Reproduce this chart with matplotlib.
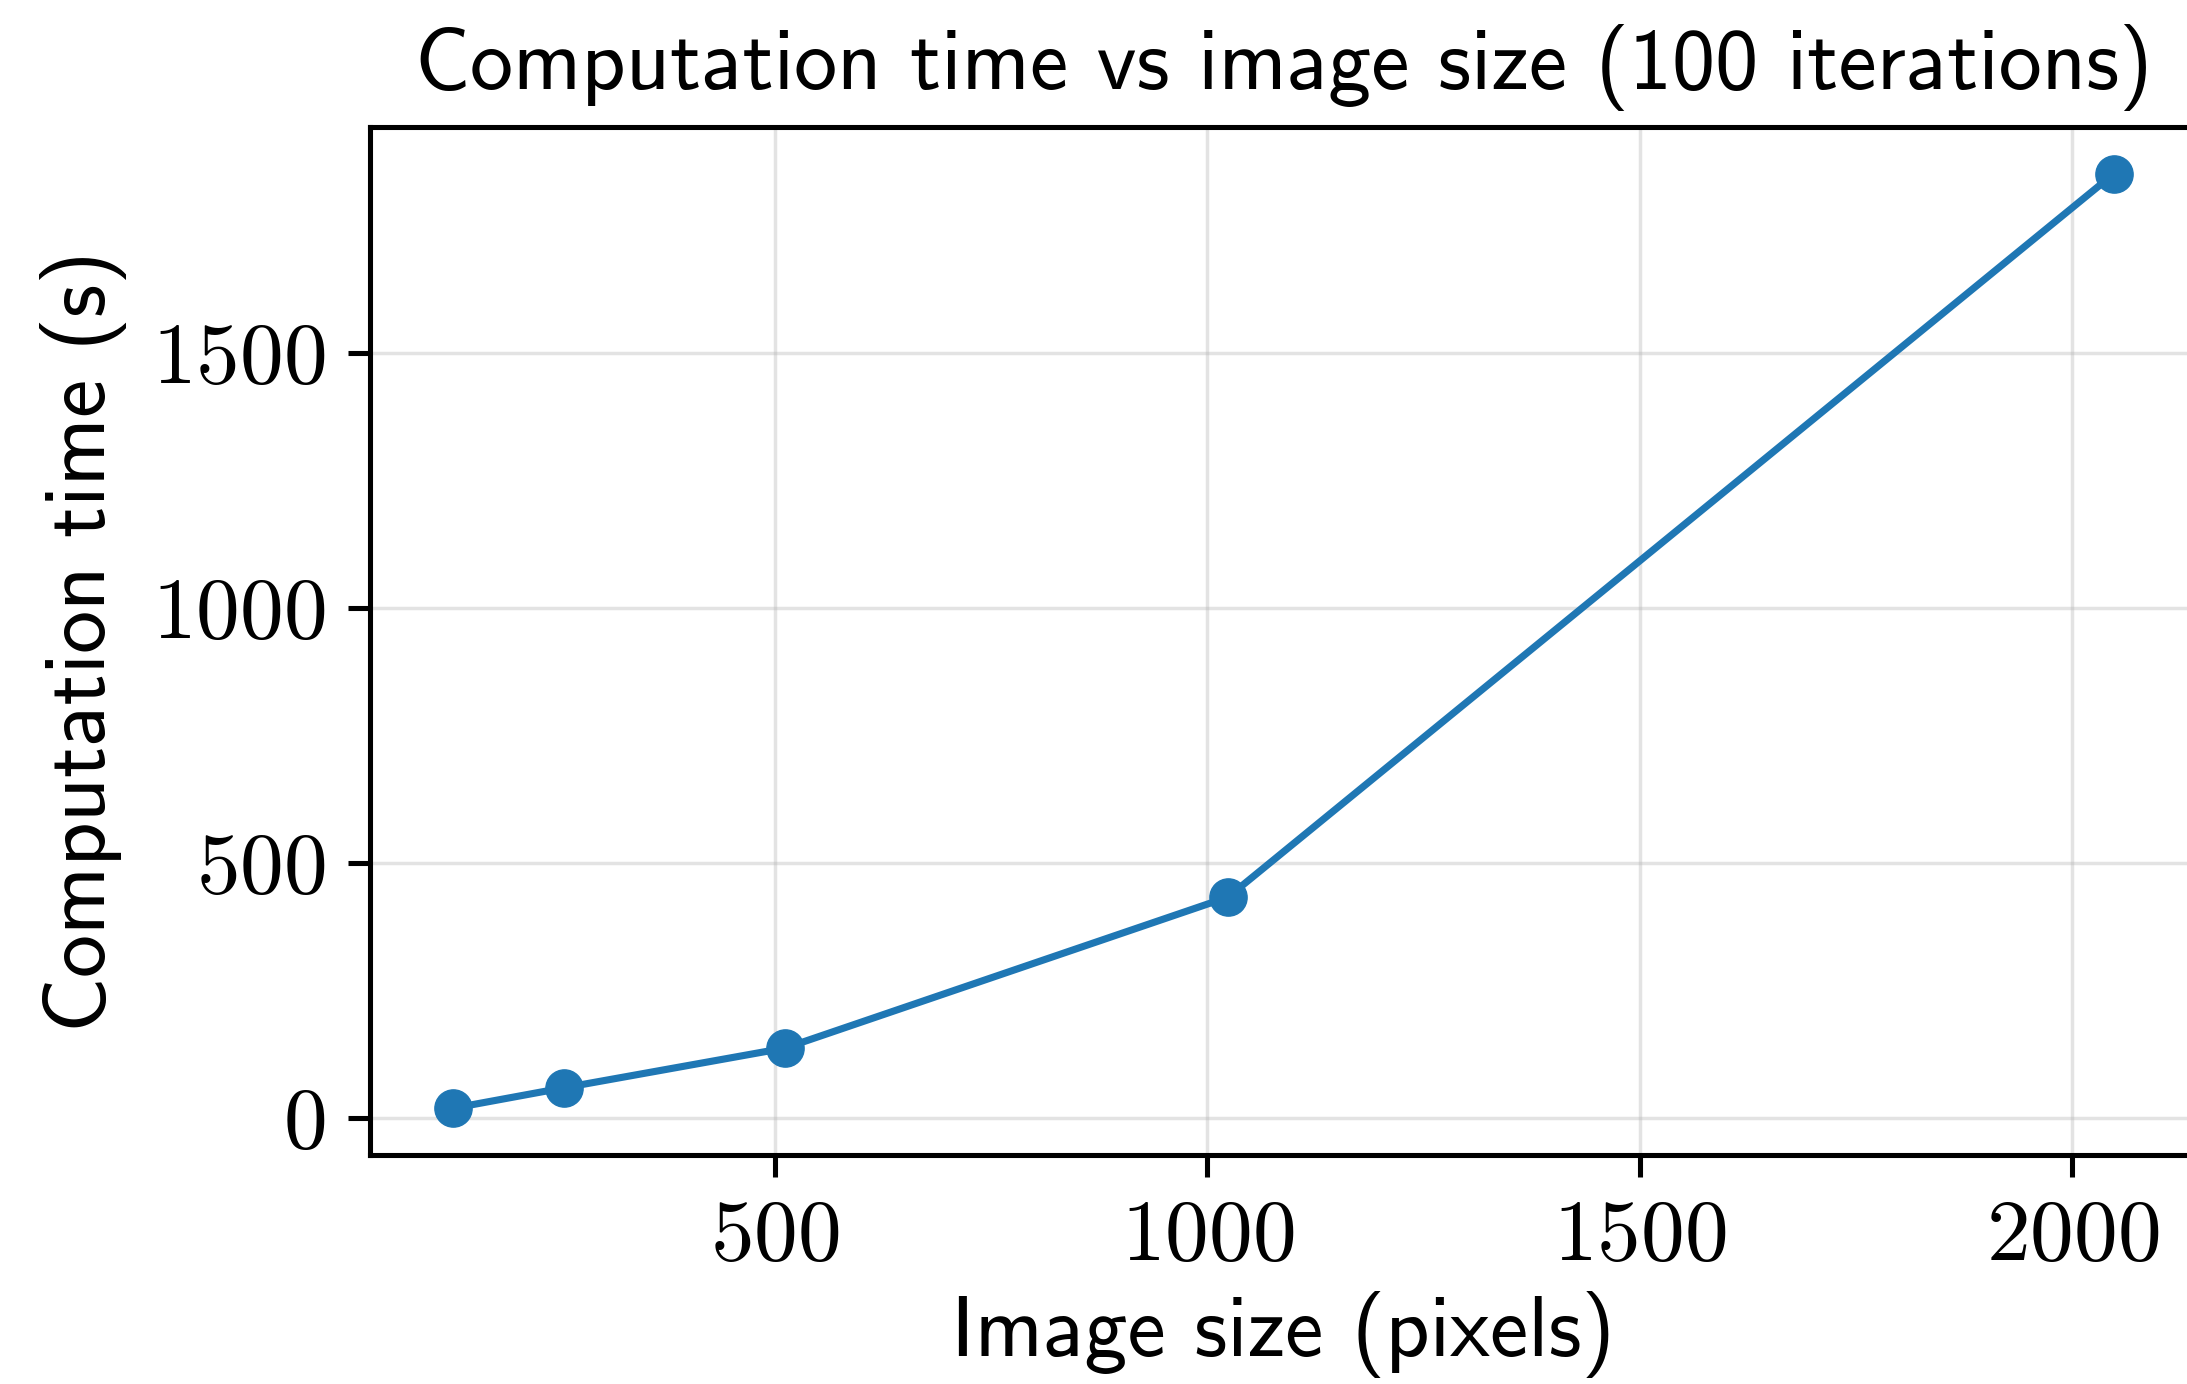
import numpy as np
import matplotlib
matplotlib.use("Agg")
import matplotlib.pyplot as plt

# Datos: tamaño de imagen y tiempo de computo
sizes = [128, 256, 512, 1024, 2048]
times = [19, 59, 137, 433, 1851]

k = 4.56  # factor de escala respecto al estilo por defecto

plt.rcParams['font.family'] = 'cmss10'
plt.rcParams['axes.formatter.use_mathtext'] = True
plt.rcParams['axes.unicode_minus'] = False

fig = plt.figure(figsize=(21.87, 13.84), dpi=100)
ax = fig.add_axes([0.1692, 0.1655, 1.0045 - 0.1692, 0.9082 - 0.1655])

ax.plot(sizes, times, '-o', color='#1f77b4', linewidth=1.5 * k * 0.75,
        markersize=6 * k * 0.98)

ax.set_title("Computation time vs image size (100 iterations)", fontsize=62, pad=6 * k)
ax.set_xlabel("Image size (pixels)", fontsize=62, labelpad=10)
ax.set_ylabel("Computation time (s)", fontsize=62, labelpad=4 * k)

ax.set_xticks([500, 1000, 1500, 2000])
ax.set_yticks([0, 500, 1000, 1500])
ax.tick_params(labelsize=63, labelfontfamily='cmr10', length=3.5 * k,
               width=0.8 * k, pad=3.5 * k)
for s in ax.spines.values():
    s.set_linewidth(0.8 * k)

ax.grid(True, color='#b0b0b0', alpha=0.35, linewidth=2.5)

fig.savefig("out.png", dpi=100)
